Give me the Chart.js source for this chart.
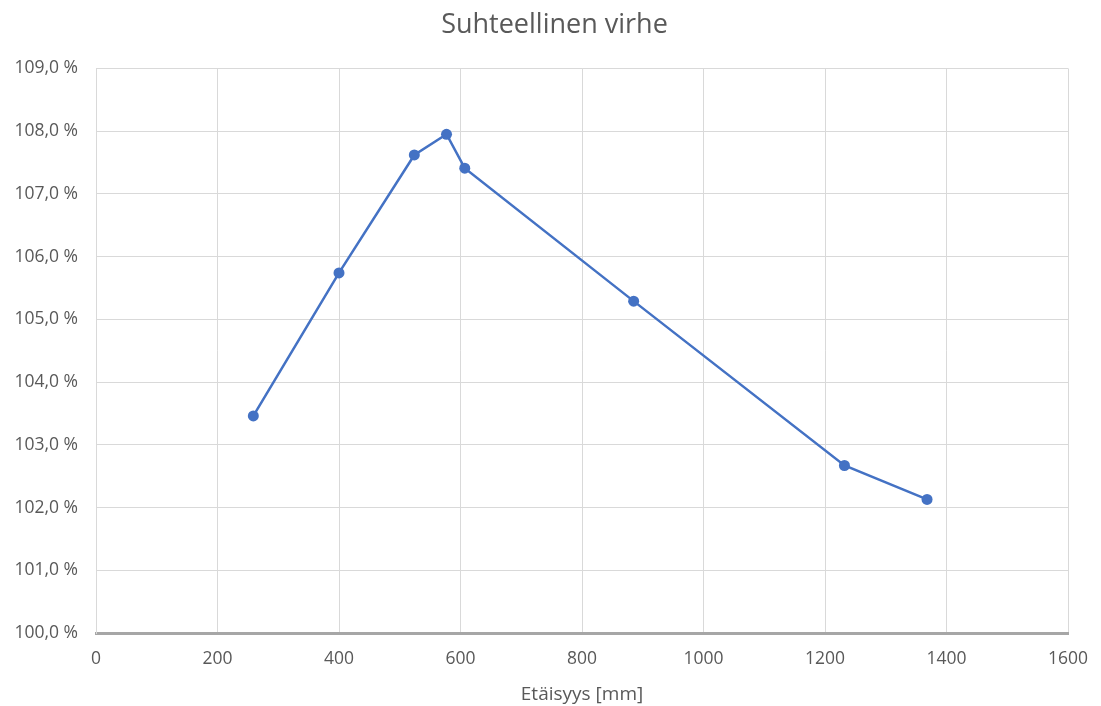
<!DOCTYPE html>
<html>
<head>
<meta charset="utf-8">
<script src="https://cdn.jsdelivr.net/npm/chart.js@4"></script>
<style>
  html, body { margin: 0; padding: 0; background: #ffffff; }
  #wrap { width: 1101px; height: 706px; }
</style>
</head>
<body>
<div id="wrap"><canvas id="c" width="1101" height="706"></canvas></div>
<script>
const distances = [259, 400, 524, 577, 607, 885, 1232, 1368];
const relativeError = [103.46, 105.74, 107.62, 107.95, 107.41, 105.29, 102.67, 102.13];
const chartTitle = 'Suhteellinen virhe';
const xAxisTitle = 'Etäisyys [mm]';

const FONT = '"Open Sans", "Noto Sans", sans-serif';
const TXT = '#595959';

// Centre the title over the whole canvas rather than over the padded box
const titleShift = {
  id: 'titleShift',
  afterLayout(chart) {
    const t = chart.titleBlock;
    if (t) { const d = 550.5 - (t.left + t.right) / 2 + 4; t.left += d; t.right += d; }
  }
};

new Chart(document.getElementById('c'), {
  type: 'scatter',
  data: {
    datasets: [{
      data: distances.map((x, i) => ({ x: x, y: relativeError[i] })),
      showLine: true,
      borderColor: '#4472c4',
      backgroundColor: '#4472c4',
      borderWidth: 2.5,
      pointRadius: 5.5,
      pointHoverRadius: 5.5,
      pointBorderWidth: 0,
      tension: 0
    }]
  },
  plugins: [titleShift],
  options: {
    responsive: false,
    animation: false,
    layout: { padding: { left: 0, right: 33, top: 0, bottom: 0 } },
    plugins: {
      legend: { display: false },
      tooltip: { enabled: false },
      title: {
        display: true,
        text: chartTitle,
        color: TXT,
        font: { family: FONT, size: 27, weight: 'normal' },
        padding: { top: 9.5, bottom: 26.5 }
      }
    },
    scales: {
      x: {
        type: 'linear',
        min: 0, max: 1600,
        ticks: {
          stepSize: 200,
          color: TXT,
          font: { family: FONT, size: 17.5 },
          padding: 16,
          maxRotation: 0,
          callback: function (v) { return String(v); }
        },
        grid: { color: '#d9d9d9', lineWidth: 1, drawTicks: false },
        border: { display: true, color: '#a6a6a6', width: 3 },
        title: {
          display: true,
          text: xAxisTitle,
          color: TXT,
          font: { family: FONT, size: 19 },
          padding: { top: 0, bottom: 0 }
        },
        afterFit: function (s) { s.height = 73; s.paddingRight = 0; s.paddingLeft = 0; }
      },
      y: {
        type: 'linear',
        min: 100, max: 109,
        ticks: {
          stepSize: 1,
          color: TXT,
          font: { family: FONT, size: 17.5 },
          padding: 18,
          callback: function (v) { return v.toFixed(1).replace('.', ',') + ' %'; }
        },
        grid: { color: '#d9d9d9', lineWidth: 1, drawTicks: false },
        border: { display: true, color: '#d9d9d9', width: 1 },
        afterFit: function (s) { s.width = 96; }
      }
    }
  }
});
</script>
</body>
</html>
